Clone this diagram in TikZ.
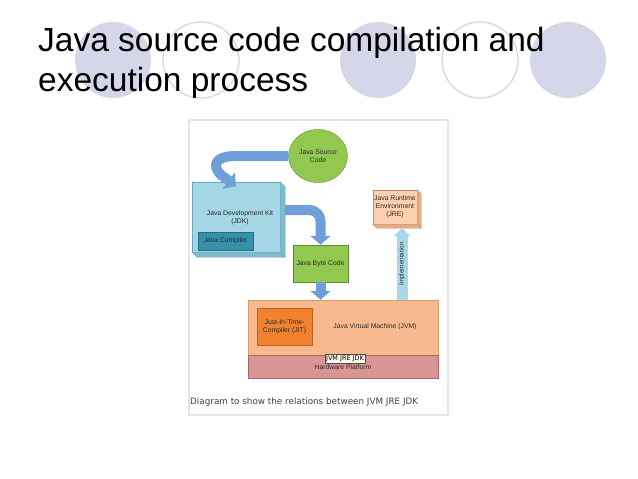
\documentclass[tikz,border=0pt]{standalone}
\usepackage{fontspec}
\setmainfont{Liberation Sans}
\newfontfamily\capfont{DejaVu Sans}
\usetikzlibrary{arrows.meta,shapes.geometric}
\definecolor{deco}{HTML}{D6D6EA}
\definecolor{framec}{HTML}{DCE8EE}
\definecolor{srcgreen}{HTML}{92C84F}
\definecolor{srcline}{HTML}{5F8F35}
\definecolor{arrowblue}{HTML}{6F9FD8}
\definecolor{jdkfront}{HTML}{A4D6E6}
\definecolor{jdkside}{HTML}{7DBBCF}
\definecolor{jdkline}{HTML}{6AA7B8}
\definecolor{compfill}{HTML}{3591A8}
\definecolor{compline}{HTML}{256F80}
\definecolor{jrefront}{HTML}{FCD0B0}
\definecolor{jreside}{HTML}{E6AC85}
\definecolor{jreline}{HTML}{C08A66}
\definecolor{implblue}{HTML}{A8D8E8}
\definecolor{jvmfill}{HTML}{F9B98E}
\definecolor{jvmline}{HTML}{D89A70}
\definecolor{jitfill}{HTML}{F0822F}
\definecolor{jitline}{HTML}{C0631C}
\definecolor{hwfill}{HTML}{D99594}
\definecolor{hwline}{HTML}{A86868}
\definecolor{txt}{HTML}{2A2A2A}
\definecolor{tipfill}{HTML}{FFFBEA}
\begin{document}
\begin{tikzpicture}[x=1pt,y=-1pt,
  title/.style={font=\fontsize{33.5}{40}\selectfont, inner sep=0pt, text=black},
  dtext/.style={font=\fontsize{6.8}{8}\selectfont, text=txt, align=center, inner sep=0pt},
  box/.style={rectangle, inner sep=0pt},
  fatarrow/.style={draw=arrowblue, line width=10pt, line join=round, -{Triangle[width=20pt,length=9pt]}},
  implarrow/.style={draw=implblue, line width=11pt, -{Triangle[width=17pt,length=8pt]}}
]
\useasboundingbox[fill=white] (0,0) rectangle (638,479);
% decorative circles
\foreach \cx in {113,378,568} \fill[deco] (\cx,60) circle[radius=38];
\foreach \cx in {201,480} \draw[deco, line width=1.3pt] (\cx,60) circle[radius=38];
% title
\node[title, anchor=base west] (t1) at (38,51) {Java source code compilation and};
\node[title, anchor=base west] (t2) at (38,91) {execution process};
% frame
\draw[framec, line width=1.6pt, fill=white] (189,120) rectangle (448,415);
% source
\node[ellipse, draw=srcline, fill=srcgreen, minimum width=59pt, minimum height=53pt, dtext] (src) at (318,156) {Java Source\\Code};
% JDK
\node[box, draw=jdkline, fill=jdkfront, minimum width=88pt, minimum height=70pt] (jdk) at (236,217) {};
\fill[jdkside, draw=jdkline] (jdk.north east) -- ([shift={(5,5)}]jdk.north east) -- ([shift={(5,5)}]jdk.south east) -- (jdk.south east) -- cycle;
\fill[jdkside, draw=jdkline] (jdk.south west) -- ([shift={(5,5)}]jdk.south west) -- ([shift={(5,5)}]jdk.south east) -- (jdk.south east) -- cycle;
\node[dtext] (jdklabel) at (240,218) {Java Development Kit\\(JDK)};
\node[box, draw=compline, fill=compfill, minimum width=55pt, minimum height=18pt, dtext] (comp) at (225.5,241) {Java Compiler};
% JRE
\node[box, draw=jreline, fill=jrefront, minimum width=44pt, minimum height=34pt, dtext] (jre) at (395,207) {Java Runtime\\Environment\\(JRE)};
\fill[jreside, draw=jreline] (jre.north east) -- ([shift={(4,4)}]jre.north east) -- ([shift={(4,4)}]jre.south east) -- (jre.south east) -- cycle;
\fill[jreside, draw=jreline] (jre.south west) -- ([shift={(4,4)}]jre.south west) -- ([shift={(4,4)}]jre.south east) -- (jre.south east) -- cycle;
% byte code
\node[box, draw=srcline, fill=srcgreen, minimum width=55pt, minimum height=37pt, dtext] (bc) at (320.5,263.5) {Java Byte Code};
% JVM and hardware
\node[box, draw=jvmline, fill=jvmfill, minimum width=190pt, minimum height=55pt] (jvm) at (343,327.5) {};
\node[box, draw=hwline, fill=hwfill, minimum width=190pt, minimum height=23pt] (hw) at (343,366.5) {};
\node[box, draw=jitline, fill=jitfill, minimum width=55pt, minimum height=37pt, dtext] (jit) at (284.5,326.5) {Just-In-Time-\\Compiler (JIT)};
\node[dtext] (jvmlabel) at (375,327) {Java Virtual Machine (JVM)};
\node[dtext] (hwlabel) at (343,367) {Hardware Platform};
\node[draw=black!70, fill=tipfill, inner sep=1.3pt, font=\capfont\fontsize{6.5}{7}\selectfont] (tip) at (345,359) {JVM JRE JDK};
% arrows
\coordinate (jdkin) at (236,186);
\draw[fatarrow] (src.west) -- (236,156) .. controls (214,156) and (212,166) .. (221,175) -- (jdkin);
\draw[fatarrow, rounded corners=11pt] ([shift={(5,-7)}]jdk.east) -| (bc.north);
\draw[fatarrow] (bc.south) -- (bc.south |- jvm.north);
\coordinate (implx) at (402,0);
\draw[implarrow] (jvm.north -| implx) -- node[dtext, rotate=90, font=\fontsize{6.3}{7}\selectfont] (impl) {Implementation} ([yshift=-4pt]jre.south -| implx);
% caption
\node[anchor=west, inner sep=0pt, text=black!75, font=\capfont\fontsize{8.8}{10}\selectfont] (cap) at (190,402) {Diagram to show the relations between JVM JRE JDK};
\end{tikzpicture}
\end{document}
